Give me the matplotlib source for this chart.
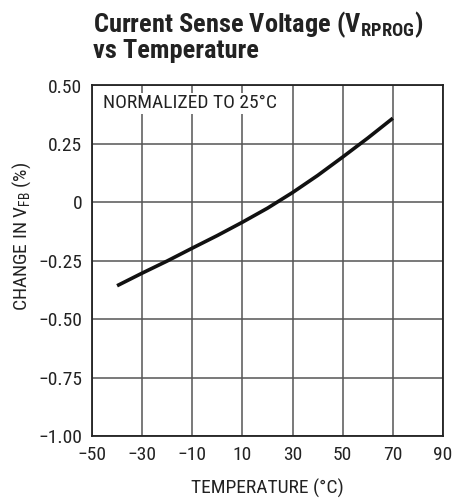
import matplotlib
matplotlib.use('Agg')
import matplotlib.pyplot as plt
from matplotlib import font_manager

# pick the narrowest face we have
names = {f.name for f in font_manager.fontManager.ttflist}
FONT = 'DejaVu Sans'
for cand in ['Roboto Condensed', 'Liberation Sans Narrow', 'Arial Narrow', 'Liberation Sans']:
    if cand in names:
        FONT = cand
        break
plt.rcParams['font.family'] = [FONT, 'DejaVu Sans']
plt.rcParams['mathtext.fontset'] = 'custom'
plt.rcParams['mathtext.rm'] = FONT
plt.rcParams['mathtext.bf'] = FONT + ':bold'

# data
temperature = [-40, -30, -20, -10, 0, 10, 20, 30, 40, 50, 60, 70]
change_vfb = [-0.357, -0.303, -0.251, -0.196, -0.142, -0.085, -0.025, 0.042,
              0.115, 0.194, 0.275, 0.360]

x_ticks = [-50, -30, -10, 10, 30, 50, 70, 90]
x_labels = ['\u221250', '\u221230', '\u221210', '10', '30', '50', '70', '90']
y_ticks = [-1.0, -0.75, -0.5, -0.25, 0, 0.25, 0.5]
y_labels = ['\u22121.00', '\u22120.75', '\u22120.50', '\u22120.25', '0', '0.25', '0.50']

fig = plt.figure(figsize=(4.53, 4.98), dpi=100)
ax = fig.add_axes([92 / 453, 62 / 498, 351 / 453, 350.5 / 498])

ax.plot(temperature, change_vfb, color='#111111', lw=2.6, solid_capstyle='butt', zorder=3)

ax.set_xlim(-50, 90)
ax.set_ylim(-1.0, 0.5)
ax.set_xticks(x_ticks)
ax.set_xticklabels(x_labels)
ax.set_yticks(y_ticks)
ax.set_yticklabels(y_labels)
ax.tick_params(length=0, labelsize=14, pad=7, colors='#222222')
ax.grid(True, color='#555555', lw=1.1)
ax.set_axisbelow(True)
for s in ax.spines.values():
    s.set_color('#222222')
    s.set_linewidth(1.3)

ax.set_xlabel('TEMPERATURE (\u00b0C)', fontsize=14, color='#222222', labelpad=11)
fig.text(22 / 453, 1 - 236 / 498, 'CHANGE IN V$_\\mathrm{FB}$ (%)', rotation=90,
         ha='center', va='center', fontsize=14, color='#222222')

ax.text(0.03, 0.975, 'NORMALIZED TO 25\u00b0C', transform=ax.transAxes, ha='left', va='top',
        fontsize=14, color='#222222', zorder=4,
        bbox=dict(facecolor='white', edgecolor='none', pad=1))

fig.text(93 / 453, 1 - 32 / 498, 'Current Sense Voltage (V$_\\mathbf{RPROG}$)',
         fontsize=19, fontweight='bold', color='#222222', va='baseline')
fig.text(93 / 453, 1 - 58 / 498, 'vs Temperature',
         fontsize=19, fontweight='bold', color='#222222', va='baseline')

plt.savefig('out.png', dpi=100)
